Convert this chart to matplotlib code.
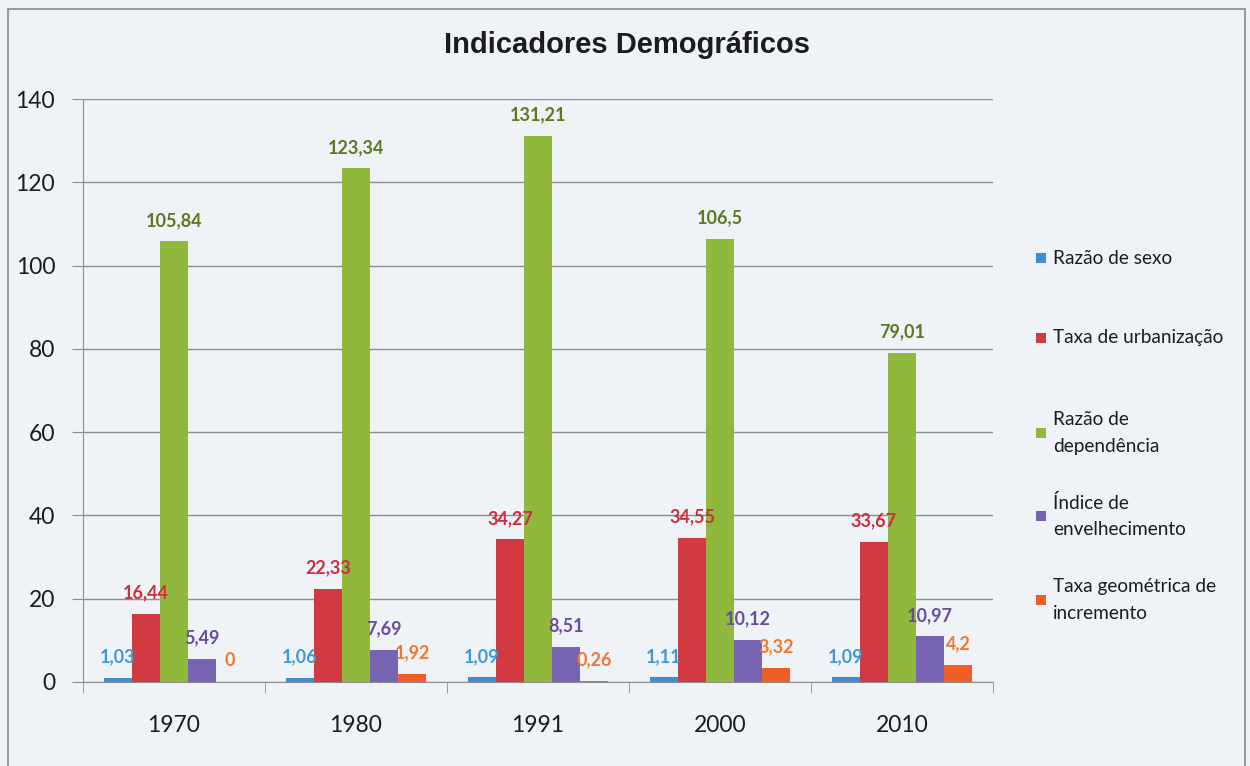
import numpy as np
import matplotlib.pyplot as plt
from matplotlib.patches import Rectangle

# ----------------------------
# Data
# ----------------------------
years = ["1970", "1980", "1991", "2000", "2010"]
series_names = [
    "Razão de sexo",
    "Taxa de urbanização",
    "Razão de\ndependência",
    "Índice de\nenvelhecimento",
    "Taxa geométrica de\nincremento",
]
razao_sexo = [1.03, 1.06, 1.09, 1.11, 1.09]
taxa_urbanizacao = [16.44, 22.33, 34.27, 34.55, 33.67]
razao_dependencia = [105.84, 123.34, 131.21, 106.5, 79.01]
indice_envelhecimento = [5.49, 7.69, 8.51, 10.12, 10.97]
taxa_incremento = [0, 1.92, 0.26, 3.32, 4.2]

series = [razao_sexo, taxa_urbanizacao, razao_dependencia,
          indice_envelhecimento, taxa_incremento]

bar_colors = ["#3b8fd2", "#d23a42", "#8fb83c", "#7664b2", "#ef5f25"]
label_colors = ["#3d9ad8", "#cc2f3e", "#5b7a1e", "#6a4c9e", "#f07a2c"]

bg = "#eff2f6"
txt = "#1c1c1c"

def fmt(v):
    # portuguese decimal comma, no trailing zeros
    s = ("%.2f" % v).rstrip("0").rstrip(".")
    return s.replace(".", ",")

# ----------------------------
# Figure
# ----------------------------
fig = plt.figure(figsize=(12.5, 7.66), dpi=100, facecolor=bg)
ax = fig.add_axes([83 / 1250, 1 - 682 / 766, 910 / 1250, 583 / 766])
ax.set_facecolor(bg)

x = np.arange(len(years))
w = 0.154
for i, (vals, name) in enumerate(zip(series, series_names)):
    pos = x + (i - 2) * w
    ax.bar(pos, vals, width=w, color=bar_colors[i], label=name, zorder=3)
    for xp, v in zip(pos, vals):
        ax.annotate(fmt(v), (xp, v), xytext=(0, 9), textcoords="offset points",
                    ha="center", va="bottom", fontsize=13, fontweight="bold",
                    color=label_colors[i], family="Lato", zorder=4)

ax.set_xlim(-0.5, len(years) - 0.5)
ax.set_ylim(0, 140)
ax.set_yticks(np.arange(0, 141, 20))
ax.yaxis.grid(True, color="#8e8e8e", linewidth=1.0, zorder=0)
ax.set_axisbelow(True)

ax.set_xticks(x)
ax.set_xticklabels(years)
ax.set_xticks(np.arange(-0.5, len(years)), minor=True)
ax.tick_params(axis="x", which="major", length=0, pad=24, labelsize=16.5,
               labelcolor=txt)
ax.tick_params(axis="x", which="minor", length=8, color="#8e8e8e")
ax.tick_params(axis="y", length=8, color="#8e8e8e", pad=12, labelsize=16.5,
               labelcolor=txt)
for lab in ax.get_xticklabels() + ax.get_yticklabels():
    lab.set_family("Lato")

for s in ["top", "right"]:
    ax.spines[s].set_visible(False)
for s in ["left", "bottom"]:
    ax.spines[s].set_color("#8e8e8e")

# ----------------------------
# Title, legend, frame
# ----------------------------
fig.text(627 / 1250, 1 - 53 / 766, "Indicadores Demográficos",
         ha="center", va="baseline", fontsize=21, fontweight="bold",
         family="Liberation Sans", color=txt)

legend_y = [258, 338, 433, 516, 600]
for i, name in enumerate(series_names):
    yc = 1 - legend_y[i] / 766
    fig.patches.append(Rectangle((1036 / 1250, yc - 5 / 766), 10 / 1250, 10 / 766,
                                 transform=fig.transFigure, facecolor=bar_colors[i],
                                 edgecolor="none"))
    fig.text(1053 / 1250, yc, name, ha="left", va="center", fontsize=13.7,
             family="Lato", color=txt, linespacing=1.7)

fig.patches.append(Rectangle((8 / 1250, -0.02), 1237 / 1250, 1.02 - 9 / 766,
                             transform=fig.transFigure, facecolor="none",
                             edgecolor="#8a8a8a", linewidth=1.2))

fig.savefig("out.png", dpi=100, facecolor=bg)
